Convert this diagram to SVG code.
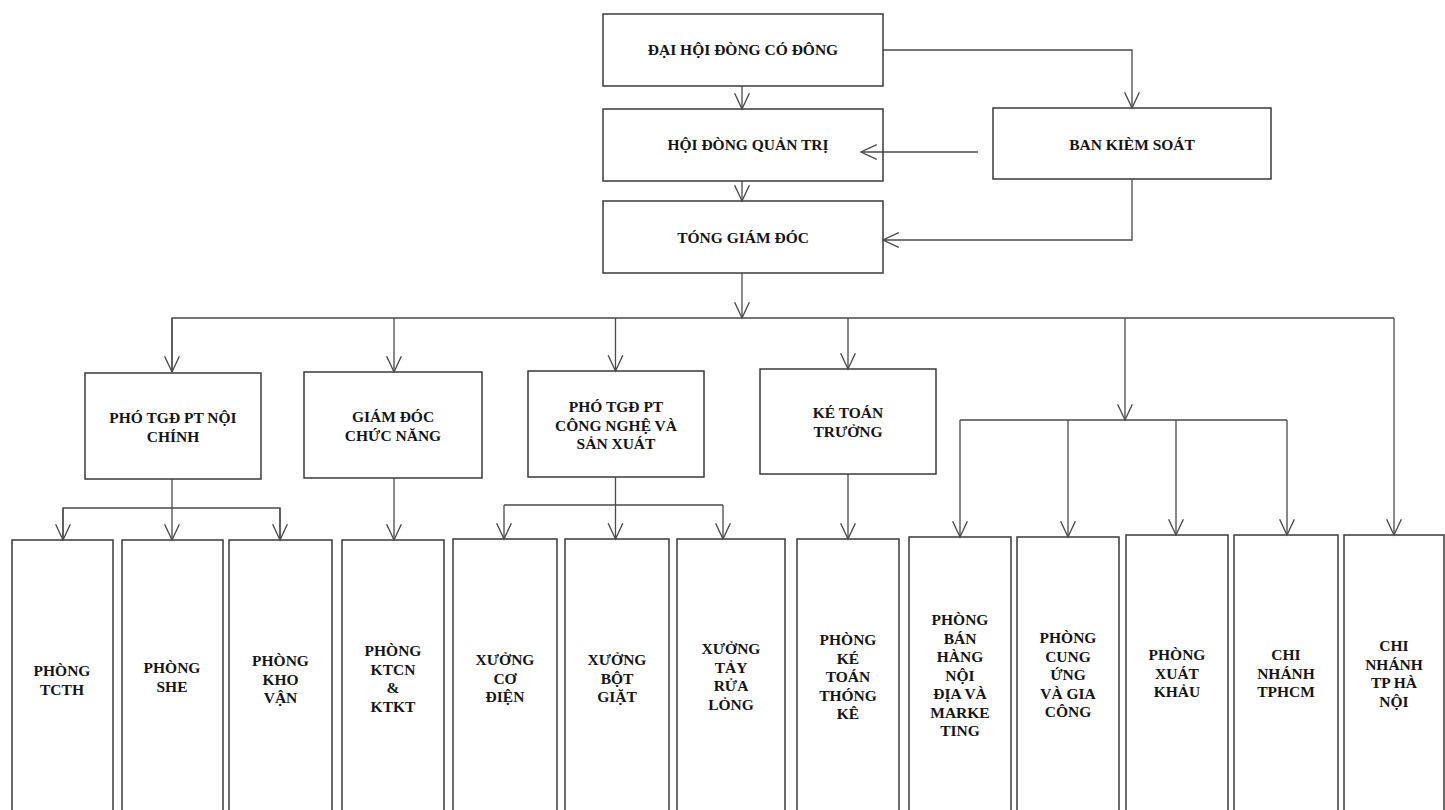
<svg xmlns="http://www.w3.org/2000/svg" width="1445" height="810" viewBox="0 0 1445 810">
<defs>
<style>
.box{fill:#fff;stroke:#3a3a3a;stroke-width:1.5}
.t{font-family:"Liberation Serif","Times New Roman",serif;font-weight:bold;font-size:15.5px;fill:#151515;text-anchor:middle}
.c{fill:none;stroke:#4a4a4a;stroke-width:1.3}
</style>
<marker id="ar" markerUnits="userSpaceOnUse" markerWidth="20" markerHeight="20" viewBox="-17 -9 19 18" refX="0" refY="0" orient="auto">
<path d="M-15,-7 L0,0 L-15,7" fill="none" stroke="#4a4a4a" stroke-width="1.3"/>
</marker>
</defs>
<rect width="1445" height="810" fill="#fff"/>

<g id="n-dhdcd"><rect class="box" x="603" y="14" width="280" height="72"/><text class="t" x="743" y="55">ĐẠI HỘI ĐÒNG CÓ ĐÔNG</text></g>
<g id="n-hdqt"><rect class="box" x="603" y="109" width="280" height="72"/><text class="t" x="748" y="150">HỘI ĐÒNG QUẢN TRỊ</text></g>
<g id="n-tgd"><rect class="box" x="603" y="201" width="280" height="72"/><text class="t" x="743" y="243">TÓNG GIÁM ĐÓC</text></g>
<g id="n-bks"><rect class="box" x="993" y="108" width="278" height="71"/><text class="t" x="1132" y="150">BAN KIÈM SOÁT</text></g>

<g id="n-nc"><rect class="box" x="85" y="373" width="176" height="106"/><text class="t" y="423"><tspan x="173">PHÓ TGĐ PT NỘI</tspan><tspan x="173" dy="18.5">CHÍNH</tspan></text></g>
<g id="n-gdcn"><rect class="box" x="304" y="372" width="178" height="106"/><text class="t" y="422"><tspan x="393">GIÁM ĐÓC</tspan><tspan x="393" dy="18.5">CHỨC NĂNG</tspan></text></g>
<g id="n-cn"><rect class="box" x="528" y="371" width="176" height="106"/><text class="t" y="412"><tspan x="616">PHÓ TGĐ PT</tspan><tspan x="616" dy="18.5">CÔNG NGHỆ VÀ</tspan><tspan x="616" dy="18.5">SẢN XUÁT</tspan></text></g>
<g id="n-ktt"><rect class="box" x="760" y="369" width="176" height="105"/><text class="t" y="418"><tspan x="848">KÉ TOÁN</tspan><tspan x="848" dy="18.5">TRƯỞNG</tspan></text></g>

<g id="n-tcth"><rect class="box" x="12" y="540" width="101" height="280"/><text class="t" y="676"><tspan x="62">PHÒNG</tspan><tspan x="62" dy="18.5">TCTH</tspan></text></g>
<g id="n-she"><rect class="box" x="122" y="540" width="101" height="280"/><text class="t" y="673"><tspan x="172">PHÒNG</tspan><tspan x="172" dy="18.5">SHE</tspan></text></g>
<g id="n-khovan"><rect class="box" x="229" y="540" width="103" height="280"/><text class="t" y="666"><tspan x="280.5">PHÒNG</tspan><tspan x="280.5" dy="18.5">KHO</tspan><tspan x="280.5" dy="18.5">VẬN</tspan></text></g>
<g id="n-ktcn"><rect class="box" x="342" y="540" width="102" height="280"/><text class="t" y="656"><tspan x="393">PHÒNG</tspan><tspan x="393" dy="18.5">KTCN</tspan><tspan x="393" dy="18.5">&amp;</tspan><tspan x="393" dy="18.5">KTKT</tspan></text></g>
<g id="n-codien"><rect class="box" x="453" y="539" width="104" height="280"/><text class="t" y="665"><tspan x="505">XƯỞNG</tspan><tspan x="505" dy="18.5">CƠ</tspan><tspan x="505" dy="18.5">ĐIỆN</tspan></text></g>
<g id="n-botgiat"><rect class="box" x="565" y="539" width="104" height="280"/><text class="t" y="665"><tspan x="617">XƯỞNG</tspan><tspan x="617" dy="18.5">BỘT</tspan><tspan x="617" dy="18.5">GIẶT</tspan></text></g>
<g id="n-tayrua"><rect class="box" x="677" y="539" width="108" height="280"/><text class="t" y="654"><tspan x="731">XƯỞNG</tspan><tspan x="731" dy="18.5">TẢY</tspan><tspan x="731" dy="18.5">RỬA</tspan><tspan x="731" dy="18.5">LỎNG</tspan></text></g>
<g id="n-ketoan"><rect class="box" x="797" y="539" width="102" height="280"/><text class="t" y="645"><tspan x="848">PHÒNG</tspan><tspan x="848" dy="18.5">KÉ</tspan><tspan x="848" dy="18.5">TOÁN</tspan><tspan x="848" dy="18.5">THÓNG</tspan><tspan x="848" dy="18.5">KÊ</tspan></text></g>
<g id="n-banhang"><rect class="box" x="909" y="537" width="102" height="280"/><text class="t" y="625"><tspan x="960">PHÒNG</tspan><tspan x="960" dy="18.5">BÁN</tspan><tspan x="960" dy="18.5">HÀNG</tspan><tspan x="960" dy="18.5">NỘI</tspan><tspan x="960" dy="18.5">ĐỊA VÀ</tspan><tspan x="960" dy="18.5">MARKE</tspan><tspan x="960" dy="18.5">TING</tspan></text></g>
<g id="n-cungung"><rect class="box" x="1017" y="537" width="102" height="280"/><text class="t" y="643"><tspan x="1068">PHÒNG</tspan><tspan x="1068" dy="18.5">CUNG</tspan><tspan x="1068" dy="18.5">ỨNG</tspan><tspan x="1068" dy="18.5">VÀ GIA</tspan><tspan x="1068" dy="18.5">CÔNG</tspan></text></g>
<g id="n-xuatkhau"><rect class="box" x="1126" y="535" width="102" height="280"/><text class="t" y="660"><tspan x="1177">PHÒNG</tspan><tspan x="1177" dy="18.5">XUÁT</tspan><tspan x="1177" dy="18.5">KHẢU</tspan></text></g>
<g id="n-tphcm"><rect class="box" x="1234" y="535" width="104" height="280"/><text class="t" y="660"><tspan x="1286">CHI</tspan><tspan x="1286" dy="18.5">NHÁNH</tspan><tspan x="1286" dy="18.5">TPHCM</tspan></text></g>
<g id="n-hanoi"><rect class="box" x="1344" y="535" width="100" height="280"/><text class="t" y="651"><tspan x="1394">CHI</tspan><tspan x="1394" dy="18.5">NHÁNH</tspan><tspan x="1394" dy="18.5">TP HÀ</tspan><tspan x="1394" dy="18.5">NỘI</tspan></text></g>

<g id="connectors">
<path class="c" d="M742,86 V109" marker-end="url(#ar)"/>
<path class="c" d="M742,181 V201" marker-end="url(#ar)"/>
<path class="c" d="M883,50 H1132 V108" marker-end="url(#ar)"/>
<path class="c" d="M978,152 H861" marker-end="url(#ar)"/>
<path class="c" d="M1132,179 V240 H883" marker-end="url(#ar)"/>
<path class="c" d="M742,273 V318" marker-end="url(#ar)"/>
<path class="c" d="M172,372 V318 H1394"/>
<path class="c" d="M172,318 V372" marker-end="url(#ar)"/>
<path class="c" d="M394,318 V372" marker-end="url(#ar)"/>
<path class="c" d="M615.5,318 V371" marker-end="url(#ar)"/>
<path class="c" d="M848,318 V369" marker-end="url(#ar)"/>
<path class="c" d="M1125,318 V420" marker-end="url(#ar)"/>
<path class="c" d="M1394,318 V535" marker-end="url(#ar)"/>
<path class="c" d="M172,479 V540" marker-end="url(#ar)"/>
<path class="c" d="M63,540 V508 H280 V540" />
<path class="c" d="M63,508 V540" marker-end="url(#ar)"/>
<path class="c" d="M280,508 V540" marker-end="url(#ar)"/>
<path class="c" d="M394,478 V540" marker-end="url(#ar)"/>
<path class="c" d="M615.5,477 V539" marker-end="url(#ar)"/>
<path class="c" d="M504,505 H723"/>
<path class="c" d="M504,505 V539" marker-end="url(#ar)"/>
<path class="c" d="M723,505 V539" marker-end="url(#ar)"/>
<path class="c" d="M848,474 V539" marker-end="url(#ar)"/>
<path class="c" d="M960,420 H1287"/>
<path class="c" d="M960,420 V537" marker-end="url(#ar)"/>
<path class="c" d="M1068,420 V537" marker-end="url(#ar)"/>
<path class="c" d="M1176,420 V535" marker-end="url(#ar)"/>
<path class="c" d="M1287,420 V535" marker-end="url(#ar)"/>
</g>
</svg>
